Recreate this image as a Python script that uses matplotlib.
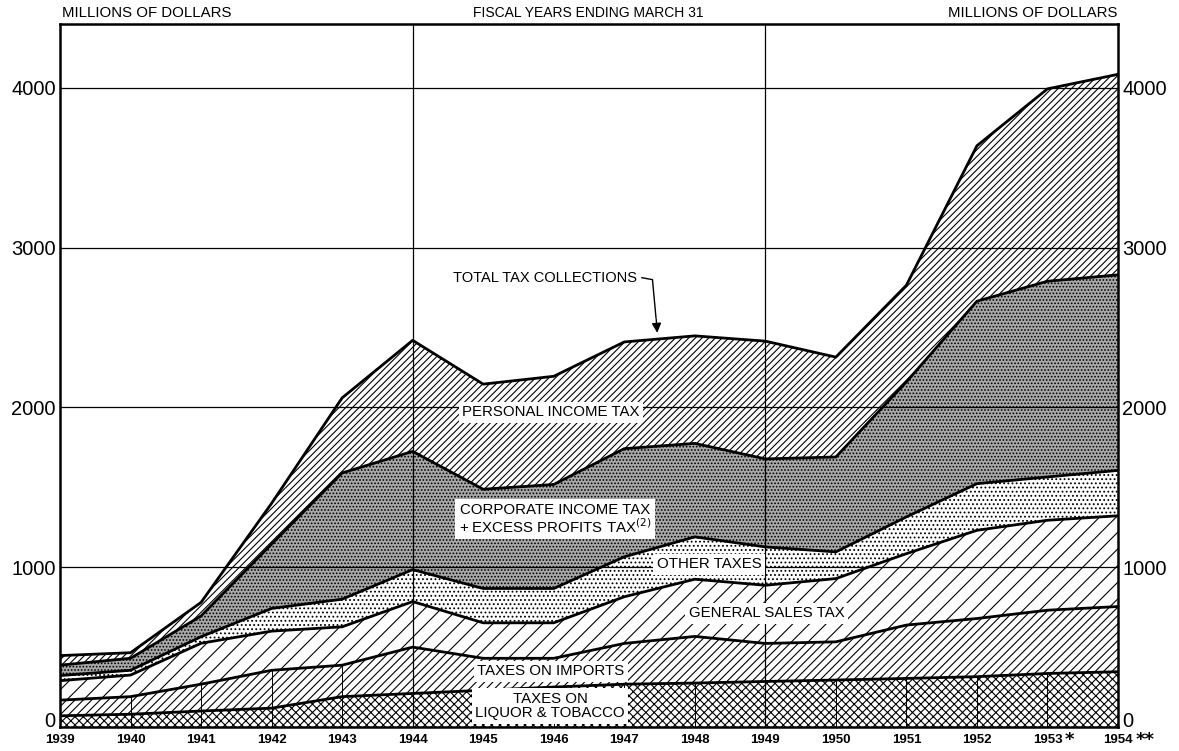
import matplotlib.pyplot as plt
import numpy as np

plt.rcParams['font.family'] = ['Liberation Sans', 'DejaVu Sans']
plt.rcParams['hatch.linewidth'] = 0.8

# fiscal years ending March 31, millions of dollars
years = np.arange(1939, 1955)
year_labels = ['1939', '1940', '1941', '1942', '1943', '1944', '1945', '1946',
               '1947', '1948', '1949', '1950', '1951', '1952', '1953', '1954']
liquor_tobacco = [70, 80, 100, 118, 190, 210, 230, 250, 268, 275, 285, 294, 304, 315, 335, 346]
imports_tax = [98, 110, 168, 237, 197, 290, 200, 180, 255, 292, 238, 239, 334, 364, 396, 408]
sales_tax = [122, 135, 256, 245, 240, 285, 222, 222, 292, 358, 364, 396, 447, 552, 563, 568]
other_taxes = [32, 30, 41, 142, 173, 200, 215, 215, 250, 265, 240, 167, 230, 292, 271, 284]
corporate_tax = [65, 75, 130, 403, 790, 740, 621, 651, 677, 585, 551, 594, 845, 1142, 1225, 1224]
personal_tax = [60, 35, 85, 255, 470, 695, 658, 677, 668, 673, 737, 625, 605, 973, 1204, 1255]

layers = [liquor_tobacco, imports_tax, sales_tax, other_taxes, corporate_tax, personal_tax]
hatches = ['xxxx', '////', '//', '....', '.....', '/////']
faces = ['white', 'white', 'white', 'white', '#a9a9a9', 'white']

fig = plt.figure(figsize=(11.79, 7.51), dpi=100)
ax = fig.add_axes([60 / 1179, 24 / 751, (1118 - 60) / 1179, (727 - 24) / 751])

bottom = np.zeros(len(years))
for vals, h, fc in zip(layers, hatches, faces):
    top = bottom + np.array(vals)
    ax.fill_between(years, bottom, top, facecolor=fc, edgecolor='black',
                    hatch=h, linewidth=0, zorder=2)
    ax.plot(years, top, color='black', lw=2.0, zorder=4)
    bottom = top

# grid lines drawn over the areas, as in the original
for v in [1000, 2000, 3000, 4000]:
    ax.axhline(v, color='black', lw=0.9, zorder=3)
for yr in [1944, 1949]:
    ax.axvline(yr, color='black', lw=0.9, zorder=3)
# short year marks in the lower bands
low1 = np.array(liquor_tobacco)
low2 = low1 + np.array(imports_tax)
for i, yr in enumerate(years[1:-1], start=1):
    h = low2[i] if yr < 1944 else low1[i]
    ax.plot([yr, yr], [0, h], color='black', lw=0.7, zorder=3)

ax.set_xlim(1939, 1954)
ax.set_ylim(0, 4400)
ax.set_yticks([0, 1000, 2000, 3000, 4000])
ax.set_yticklabels(['0', '1000', '2000', '3000', '4000'], fontsize=14.5)
ax.tick_params(axis='y', length=0, pad=3, labelright=True)
# the zeros sit just above the baseline
ax.yaxis.get_major_ticks()[0].label1.set_va('baseline')
ax.yaxis.get_major_ticks()[0].label2.set_va('baseline')
ax.set_xticks(years)
ax.set_xticklabels(year_labels, fontsize=9.5, fontweight='bold')
ax.tick_params(axis='x', length=0, pad=5)
for s in ax.spines.values():
    s.set_linewidth(1.8)
for yr, stars in [(1953, '*'), (1954, '**')]:
    ax.annotate(stars, xy=(yr, 0), xycoords=('data', 'axes fraction'),
                xytext=(12.5, -3), textcoords='offset points', ha='left', va='top',
                fontsize=13, fontweight='bold', family='DejaVu Sans', annotation_clip=False)

# headers
fig.text(62 / 1179, 1 - 13 / 751, 'MILLIONS OF DOLLARS', fontsize=10.8, va='center')
fig.text(588 / 1179, 1 - 13 / 751, 'FISCAL YEARS ENDING MARCH 31', fontsize=10, va='center', ha='center')
fig.text(1118 / 1179, 1 - 13 / 751, 'MILLIONS OF DOLLARS', fontsize=10.8, va='center', ha='right')

box = dict(facecolor='white', edgecolor='none', pad=2.5)
lab = dict(fontsize=10.8, ha='center', va='center', zorder=6, linespacing=1.05)
ax.text(1945.96, 1969, 'PERSONAL INCOME TAX', bbox=box, **lab)
ax.text(1946.02, 1300, 'CORPORATE INCOME TAX\n+ EXCESS PROFITS TAX$^{(2)}$', bbox=box, **lab)
ax.text(1948.2, 1019, 'OTHER TAXES', bbox=box, **lab)
ax.text(1949.02, 712, 'GENERAL SALES TAX', bbox=box, **lab)
ax.text(1945.96, 350, 'TAXES ON IMPORTS', bbox=box, **lab)
ax.text(1945.95, 131, 'TAXES ON\nLIQUOR & TOBACCO', bbox=box, **lab)

ax.text(1947.18, 2812, 'TOTAL TAX COLLECTIONS', fontsize=10.5, ha='right', va='center', zorder=6)
ax.plot([1947.25, 1947.40, 1947.45], [2812, 2800, 2560], color='black', lw=1.0, zorder=6)
ax.annotate('', xy=(1947.47, 2450), xytext=(1947.45, 2570),
            arrowprops=dict(arrowstyle='-|>', color='black', lw=1.0, mutation_scale=14), zorder=6)

fig.savefig('out.png', dpi=100)
